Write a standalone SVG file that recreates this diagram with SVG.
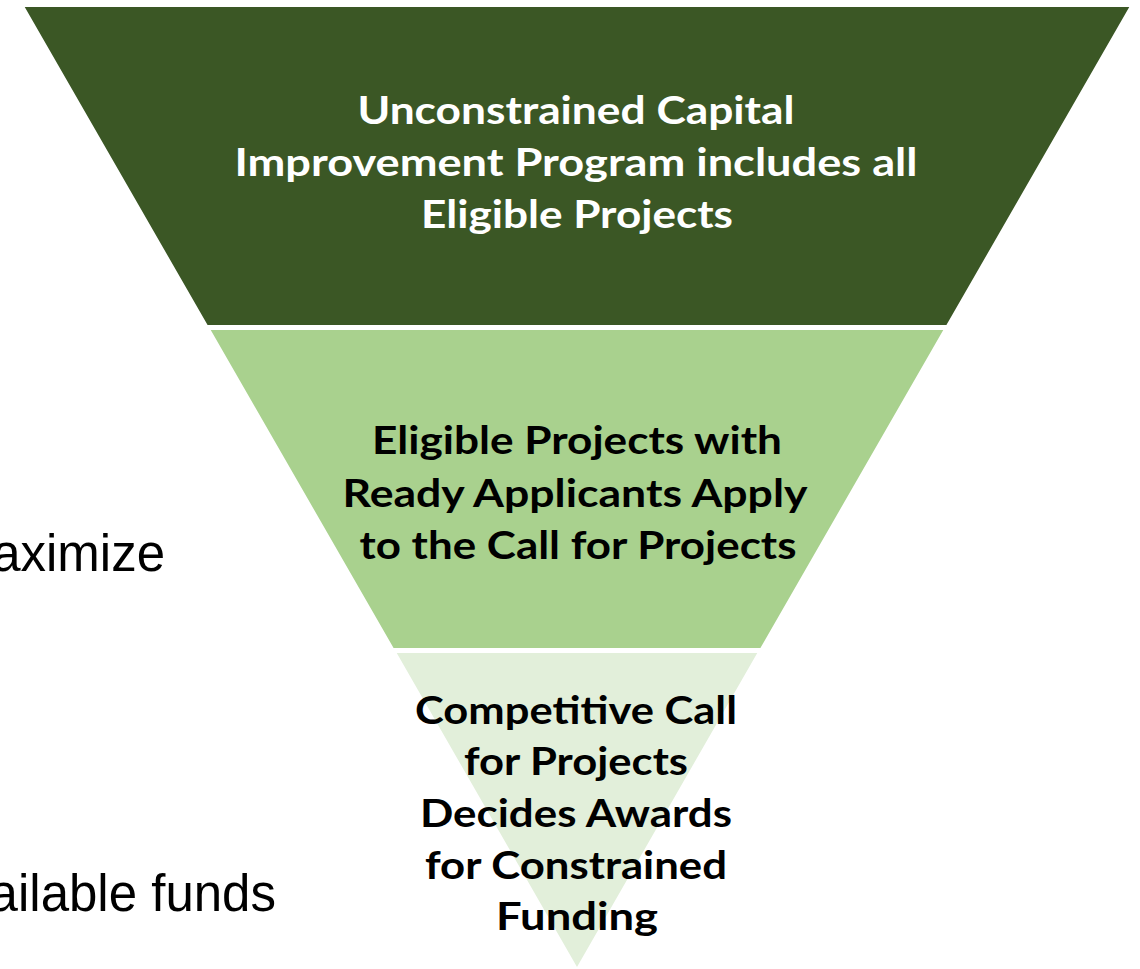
<svg xmlns="http://www.w3.org/2000/svg" width="1140" height="969" viewBox="0 0 1140 969">
<style>
.band{stroke:#ffffff;stroke-width:2}
.t{font-family:Lato,"Open Sans","Liberation Sans",sans-serif;font-weight:bold;font-size:39px;text-anchor:middle}
.w{fill:#ffffff}
.k{fill:#000000}
.side{font-family:"Liberation Sans",Arial,sans-serif;font-size:51px;fill:#000000;text-anchor:end}
</style>
<rect width="1140" height="969" fill="#ffffff"/>
<g id="side-text">
<text class="side" x="165" y="571">aximize</text>
<text class="side" x="276" y="911">ailable funds</text>
</g>
<g id="band1">
<polygon class="band" fill="#3B5725" points="23,6 1131,6 947,326 207,326"/>
<text class="t w" x="576" y="124" textLength="437" lengthAdjust="spacingAndGlyphs">Unconstrained Capital</text>
<text class="t w" x="576" y="176" textLength="683" lengthAdjust="spacingAndGlyphs">Improvement Program includes all</text>
<text class="t w" x="577" y="228" textLength="312" lengthAdjust="spacingAndGlyphs">Eligible Projects</text>
</g>
<g id="band2">
<polygon class="band" fill="#A9D18E" points="209,329 945,329 761,649 393,649"/>
<text class="t k" x="577" y="454" textLength="410" lengthAdjust="spacingAndGlyphs">Eligible Projects with</text>
<text class="t k" x="575" y="507" textLength="465" lengthAdjust="spacingAndGlyphs">Ready Applicants Apply</text>
<text class="t k" x="578" y="559" textLength="437" lengthAdjust="spacingAndGlyphs">to the Call for Projects</text>
</g>
<g id="band3">
<polygon class="band" fill="#E2EFDA" points="395,652 759,652 577,969"/>
<text class="t k" x="576" y="724" textLength="322" lengthAdjust="spacingAndGlyphs">Competitive Call</text>
<text class="t k" x="576" y="775" textLength="224" lengthAdjust="spacingAndGlyphs">for Projects</text>
<text class="t k" x="576" y="827" textLength="312" lengthAdjust="spacingAndGlyphs">Decides Awards</text>
<text class="t k" x="576" y="879" textLength="302" lengthAdjust="spacingAndGlyphs">for Constrained</text>
<text class="t k" x="577" y="930" textLength="162" lengthAdjust="spacingAndGlyphs">Funding</text>
</g>
<g id="connectors"></g>
</svg>
